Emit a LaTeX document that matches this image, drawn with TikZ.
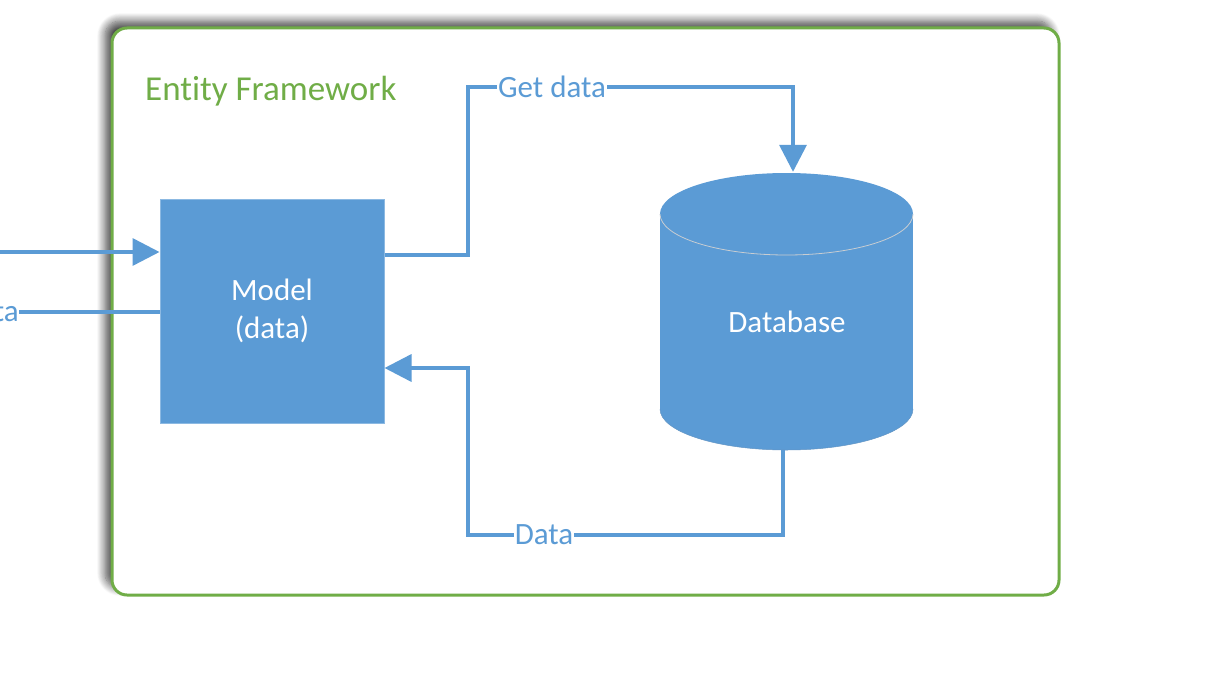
\documentclass[tikz,border=0pt]{standalone}
\usepackage{fontspec}
\setmainfont[Ligatures=NoCommon]{Carlito}
\usetikzlibrary{arrows.meta,shadows.blur}
\definecolor{msblue}{RGB}{91,155,213}
\definecolor{msgreen}{RGB}{112,173,71}
\definecolor{rimgray}{RGB}{200,205,210}
\tikzset{
  conn/.style={draw=msblue, line width=3.5pt},
  tip/.style={-{Triangle[length=27pt,width=27pt]}},
  lbl/.style={fill=white, text=msblue, inner sep=1pt, font=\fontsize{31}{37}\selectfont},
  framebox/.style={draw=msgreen, line width=3pt, rounded corners=15pt, fill=white,
    blur shadow={shadow xshift=-7pt, shadow yshift=7pt, shadow blur radius=8pt, shadow blur steps=12, shadow opacity=70}},
  modelbox/.style={fill=msblue, draw=msblue!70!white, line width=1pt, minimum width=224pt, minimum height=224pt,
    text=white, align=center, inner sep=0pt, font=\fontsize{31}{38}\selectfont},
}
\begin{document}
\begin{tikzpicture}[x=1pt,y=-1pt]
\useasboundingbox (0,0) rectangle (1230,674);
% frame
\draw[framebox] (112,28) rectangle (1059,595);
\node[text=msgreen, font=\fontsize{35}{42}\selectfont, anchor=west, inner sep=0pt] (title) at (145,91) {Entity Framework};
% model
\node[modelbox] (model) at (272,311) {Model\\(data)};
% database cylinder
\node[minimum width=253pt, minimum height=278pt, inner sep=0pt] (db) at (786.5,311) {};
\fill[msblue] (660,214) rectangle (913,409);
\fill[msblue] (786.5,409) ellipse[x radius=126.5, y radius=41];
\fill[msblue] (786.5,214) ellipse[x radius=126.5, y radius=41];
\draw[rimgray, line width=0.8pt] (660,214) arc[start angle=180, end angle=0, x radius=126.5, y radius=41];
\draw[msblue!80!gray, line width=0.5pt] (660,409) arc[start angle=180, end angle=0, x radius=126.5, y radius=41];
\node[text=white, font=\fontsize{31}{37}\selectfont] (dblabel) at (787,322) {Database};
% connectors
\coordinate (c1) at (468,255);
\coordinate (c2) at (468,87);
\coordinate (dbin) at ([xshift=6.5pt]db.north);
\draw[conn, tip] ([yshift=56pt]model.east) -- (c1) -- (c2) -- (c2 -| dbin) -- (dbin);
\node[lbl] (gd) at (552,87) {Get data};
\coordinate (dbout) at ([xshift=-3.5pt]db.south);
\coordinate (c3) at (468,535);
\coordinate (c4) at (468,368);
\draw[conn, tip] (dbout) -- (dbout |- c3) -- (c3) -- (c4) -- (c4 -| model.east);
\node[lbl] (dl) at (544,535) {Data};
% left side
\coordinate (lin) at (0,252);
\draw[conn, tip] (lin) -- (lin -| model.west);
\node[lbl, anchor=east, inner sep=0pt] (ta) at (19,312) {ta};
\draw[conn] (ta.east |- 0,312) -- (model.west |- 0,312);
\end{tikzpicture}
\end{document}
